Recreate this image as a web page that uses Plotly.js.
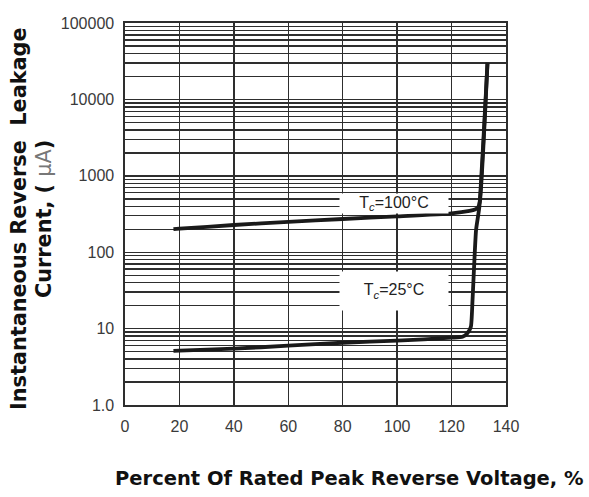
<!DOCTYPE html>
<html>
<head>
<meta charset="utf-8">
<script src="https://cdn.plot.ly/plotly-3.0.1.min.js"></script>
<style>
html,body{margin:0;padding:0;background:#fff;}
#chart{width:589px;height:497px;}
</style>
</head>
<body>
<div id="chart"></div>
<script>
// Percent of rated peak reverse voltage (%)
var x100 = [17.8, 20, 40, 60, 80, 100, 120, 126.6, 128.6, 129.7, 130.4, 133.2];
// Leakage current at Tc = 100°C (µA)
var y100 = [200, 203, 227, 250, 272, 294, 322, 347, 362, 385, 460, 30000];

var x25 = [17.8, 20, 40, 60, 80, 100, 120, 124, 125.8, 127.1, 127.7, 129, 130.2, 133.2];
// Leakage current at Tc = 25°C (µA)
var y25 = [5.1, 5.15, 5.46, 5.97, 6.53, 6.95, 7.6, 7.8, 8.7, 10.6, 23.7, 195, 390, 30000];

var xTicks = [0, 20, 40, 60, 80, 100, 120, 140];
var decades = [1, 10, 100, 1000, 10000, 100000];
var decadeLabels = ['1.0', '10', '100', '1000', '10000', '100000'];
var minorDigits = [2, 3, 4, 5, 6, 7, 8, 9];

var curveLabels = ['T<sub><i>c</i></sub>=100°C', 'T<sub><i>c</i></sub>=25°C'];
var labelX = [99, 99];
var labelY = [440, 31];

var minorVals = [];
decades.forEach(function (d) {
  if (d < 100000) {
    minorDigits.forEach(function (m) { minorVals.push(d * m); });
  }
});

var lineStyle = {color: '#1a1a1a', width: 3.8, shape: 'spline', smoothing: 0.5};
var traces = [
  {x: x100, y: y100, mode: 'lines', line: lineStyle, hoverinfo: 'skip', name: 'Tc=100°C'},
  {x: x25, y: y25, mode: 'lines', line: lineStyle, hoverinfo: 'skip', name: 'Tc=25°C'}
];

var gridColor = '#2e2e2e';
var tickFont = {family: 'Liberation Sans, Arial, sans-serif', size: 16, color: '#3a3a3a'};

var layout = {
  width: 589, height: 497,
  margin: {l: 125, r: 83, t: 23, b: 92},
  paper_bgcolor: '#fff', plot_bgcolor: '#fff',
  showlegend: false,
  xaxis: {
    range: [0, 140], tickmode: 'array', tickvals: xTicks, ticktext: xTicks.map(String),
    showgrid: true, gridcolor: gridColor, gridwidth: 1.4,
    showline: true, mirror: true, linecolor: gridColor, linewidth: 1.6,
    ticks: '', tickfont: tickFont, zeroline: false, ticklabelstandoff: 6
  },
  yaxis: {
    type: 'log', range: [0, 5], tickmode: 'array', tickvals: decades, ticktext: decadeLabels,
    showgrid: true, gridcolor: gridColor, gridwidth: 1.4,
    minor: {tickmode: 'array', tickvals: minorVals, showgrid: true, gridcolor: gridColor, gridwidth: 1.4, ticks: ''},
    showline: true, mirror: true, linecolor: gridColor, linewidth: 1.6,
    ticks: '', tickfont: tickFont, zeroline: false, ticklabelstandoff: 6
  },
  annotations: [
    {x: labelX[0], y: Math.log10(labelY[0]), xref: 'x', yref: 'y', text: curveLabels[0],
     showarrow: false, bgcolor: '#fff', width: 106, height: 17,
     font: {family: 'Liberation Sans, Arial, sans-serif', size: 16, color: '#222'}},
    {x: labelX[1], y: Math.log10(labelY[1]), xref: 'x', yref: 'y', text: curveLabels[1],
     showarrow: false, bgcolor: '#fff', width: 106, height: 36,
     font: {family: 'Liberation Sans, Arial, sans-serif', size: 16, color: '#222'}},
    {x: 0.588, y: 0, xref: 'paper', yref: 'paper', yshift: -73, xanchor: 'center', yanchor: 'middle',
     text: '<b>Percent Of Rated Peak Reverse Voltage, %</b>', showarrow: false,
     font: {family: 'DejaVu Sans, sans-serif', size: 19.5, color: '#111'}},
    {x: 0, y: 0.5, xref: 'paper', yref: 'paper', xshift: -106, yshift: -5, xanchor: 'center', yanchor: 'middle', textangle: -90,
     text: '<b>Instantaneous Reverse \u00a0Leakage</b>', showarrow: false,
     font: {family: 'DejaVu Sans, sans-serif', size: 20.8, color: '#111'}},
    {x: 0, y: 0.5, xref: 'paper', yref: 'paper', xshift: -81, yshift: -5, xanchor: 'center', yanchor: 'middle', textangle: -90,
     text: '<b>Current, ( </b><span style="color:#777">μA</span><b>)</b>', showarrow: false,
     font: {family: 'DejaVu Sans, sans-serif', size: 20.8, color: '#111'}}
  ]
};

Plotly.newPlot('chart', traces, layout, {staticPlot: true, displayModeBar: false});
</script>
</body>
</html>
